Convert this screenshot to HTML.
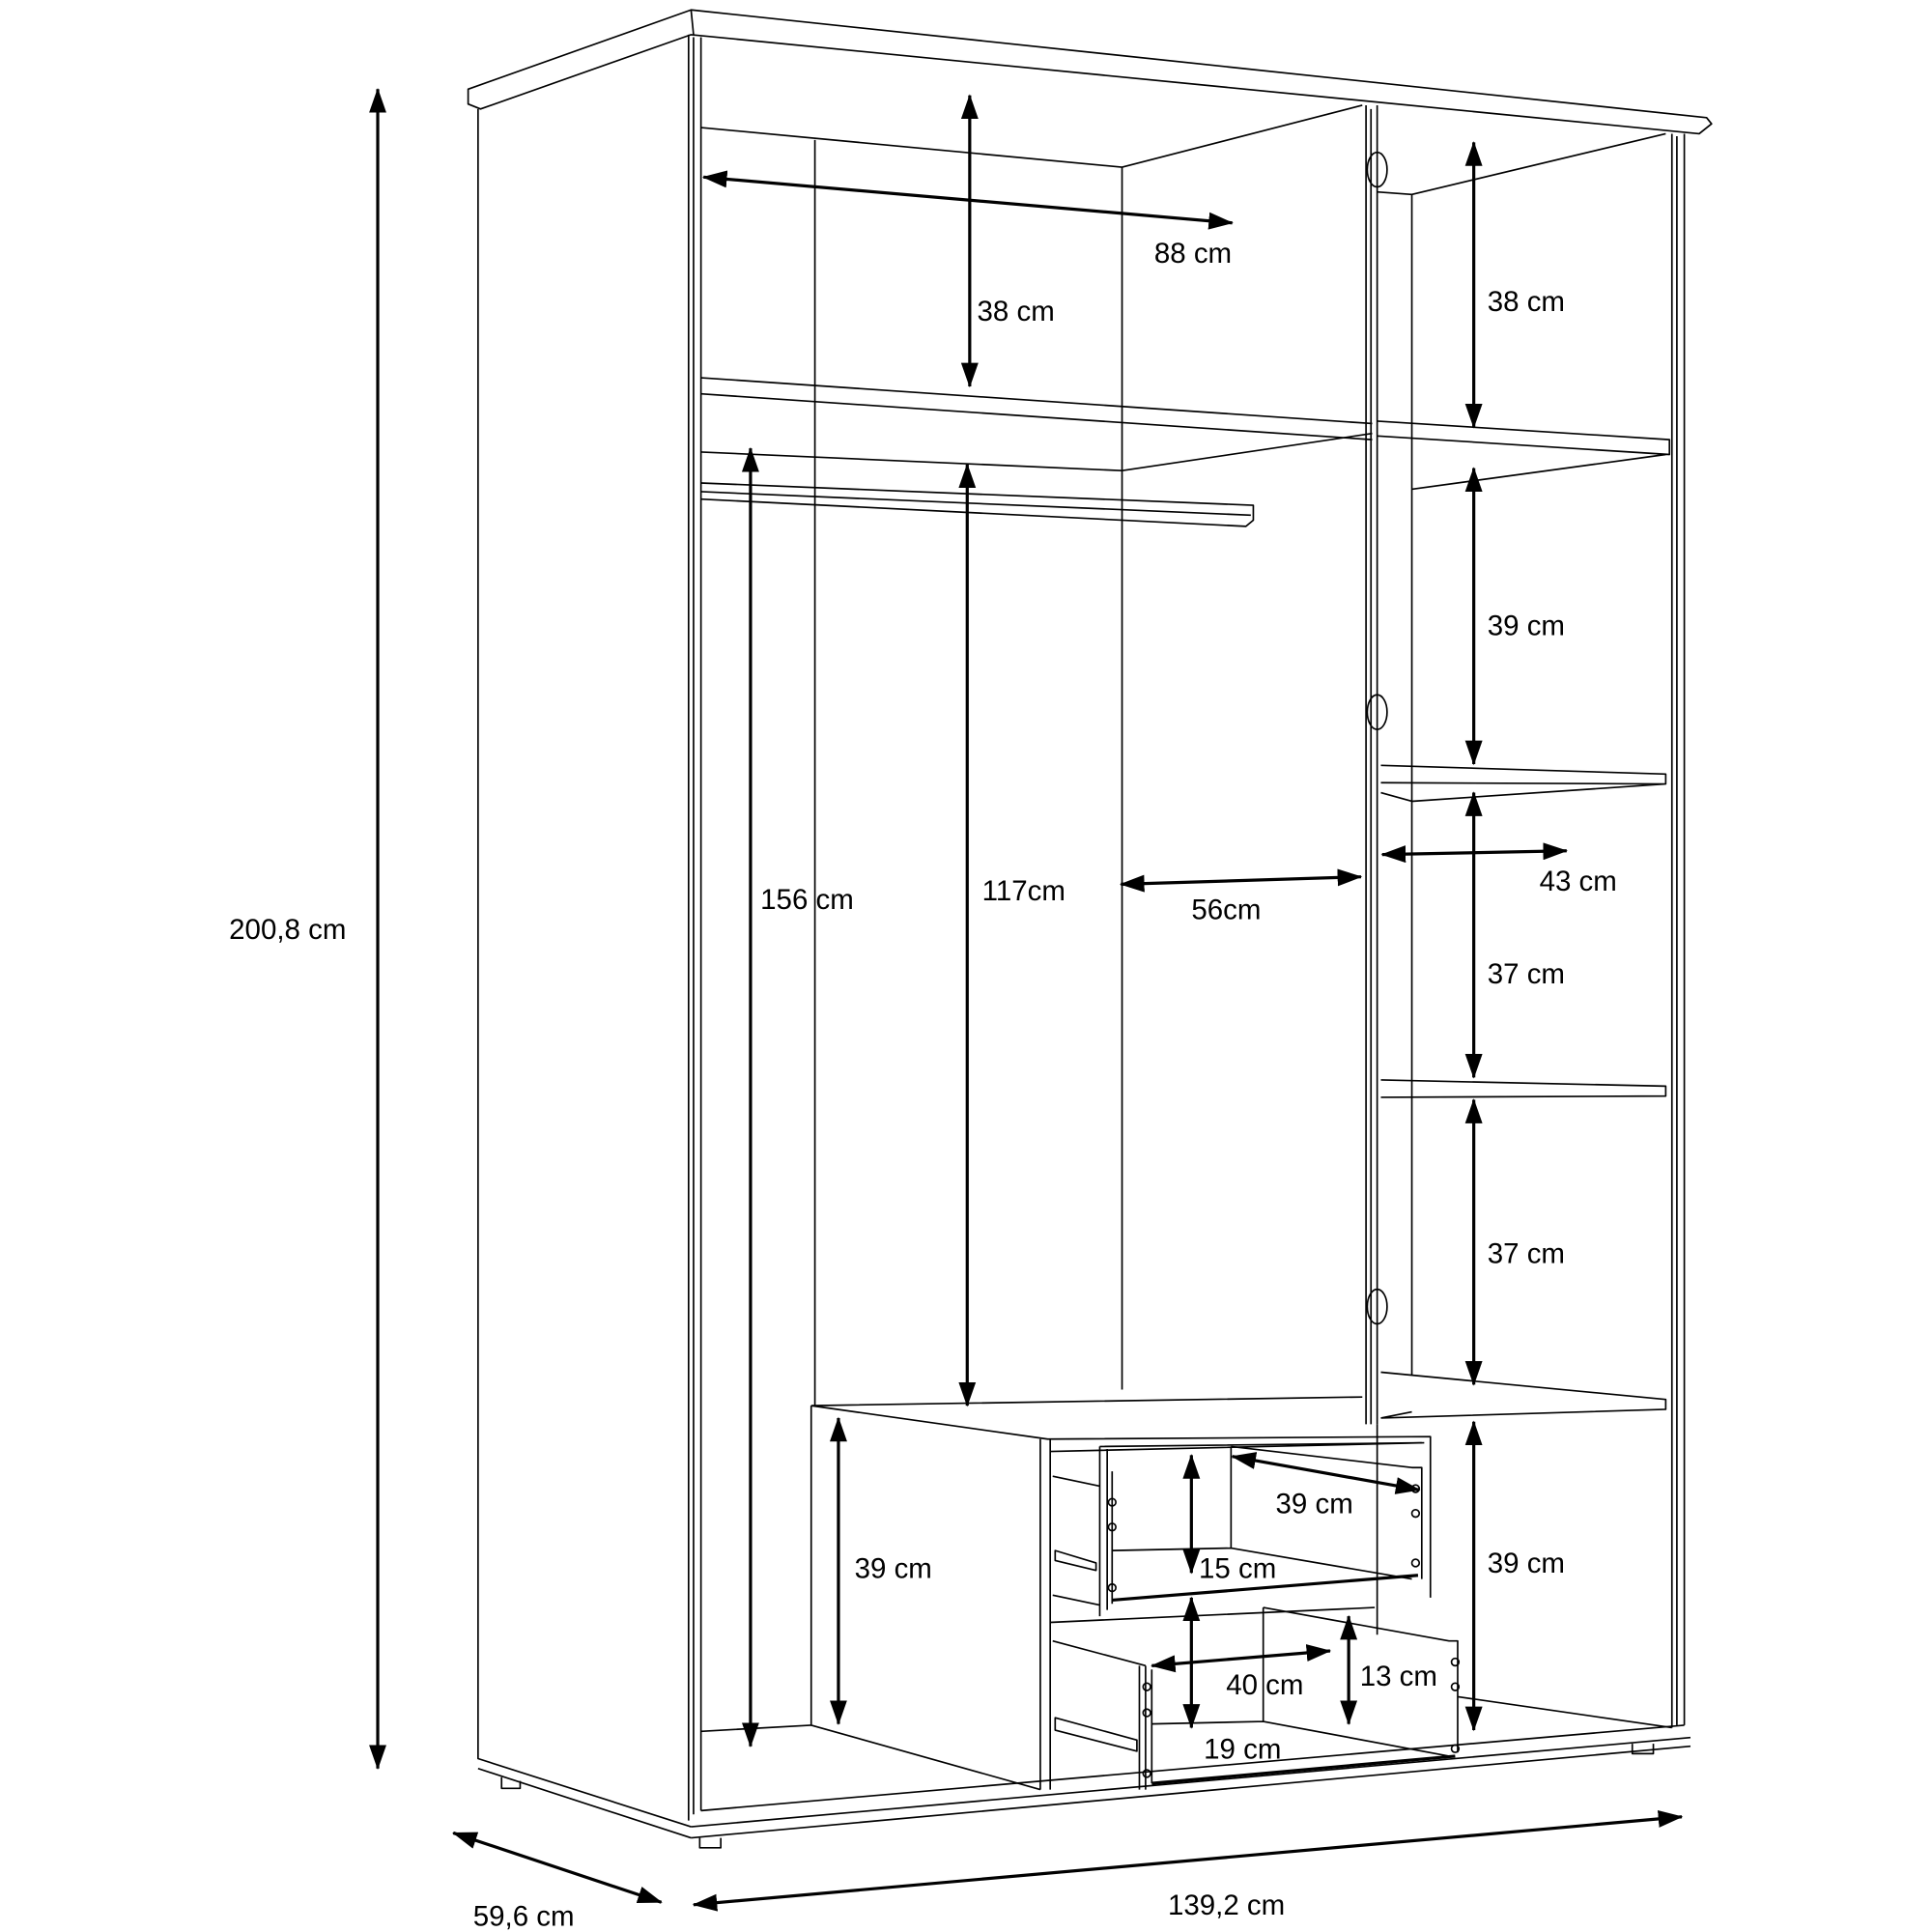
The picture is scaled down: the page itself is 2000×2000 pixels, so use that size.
<!DOCTYPE html>
<html><head><meta charset="utf-8"><style>
html,body{margin:0;padding:0;background:#fff}
svg{display:block}
text{font-family:"Liberation Sans",sans-serif;font-size:23px;fill:#000}
</style></head><body>
<svg width="2000" height="2000" viewBox="0 0 1560 1560" xmlns="http://www.w3.org/2000/svg">
<defs>
<marker id="a" viewBox="0 0 20 14" refX="19" refY="7" markerWidth="20" markerHeight="14" markerUnits="userSpaceOnUse" orient="auto-start-reverse"><path d="M0,0 L20,7 L0,14 z" fill="#000"/></marker>
</defs>
<g fill="none" stroke="#000" stroke-width="1.3" stroke-linejoin="round">
<path d="M378,72 L558,8 L1378,95 L1382,100 L1372,108 L558,28 L388,88 L378,84 Z" fill="#fff"/>
<path d="M558,8 L560,28"/>
<path d="M386,88 L386,1420 L558,1475"/>
<path d="M386,1428 L558,1484"/>
<path d="M556,28 L556,1470 M566,30 L566,1462 M560,30 L560,1465"/>
<path d="M1350,108 L1350,1395 M1360,108 L1360,1393 M1354,110 L1354,1393"/>
<path d="M558,1475 L1365,1403 M566,1462 L1360,1393 M558,1484 L1365,1410"/>
<path d="M405,1435 L405,1444 L420,1444 L420,1438 M565,1484 L565,1492 L582,1492 L582,1484 M1318,1408 L1318,1416 L1335,1416 L1335,1408"/>
<path d="M566,103 L906,135 L1100,85"/>
<path d="M658,113 L658,1135 M906,135 L906,1122"/>
<path d="M566,305 L1108,342 M566,318 L1108,355 M906,380 L1108,350 M566,365 L906,380"/>
<path d="M566,390 L1012,408 L1012,420 L1006,425 L566,403 M566,397 L1010,416"/>
<path d="M1103,85 L1103,1150 M1112,85 L1112,1150 M1107,88 L1107,1150"/>
<ellipse cx="1112" cy="137" rx="8" ry="14"/>
<ellipse cx="1112" cy="575" rx="8" ry="14"/>
<ellipse cx="1112" cy="1055" rx="8" ry="14"/>
<path d="M1112,155 L1140,157 L1345,108 M1140,157 L1140,1110"/>
<path d="M1112,340 L1348,355 L1348,367 L1112,352 M1140,395 L1345,367"/>
<path d="M1115,618 L1345,625 L1345,633 L1115,632 M1140,647 L1345,633 M1115,640 L1140,647"/>
<path d="M1115,872 L1345,877 L1345,885 L1115,886"/>
<path d="M1115,1108 L1345,1130 L1345,1138 L1115,1145 M1140,1140 L1115,1145"/>
<path d="M1112,1150 L1112,1320"/>
<path d="M655,1135 L1100,1128 M655,1135 L846,1162 L1155,1160 L1155,1290 M655,1135 L655,1393 L840,1445 M840,1162 L840,1445 M848,1162 L848,1445"/>
<path d="M848,1172 L1150,1165 M848,1310 L1110,1298"/>
<path d="M566,1398 L655,1393 M1177,1370 L1350,1395"/>
<path d="M850,1192 L888,1200 M850,1288 L888,1296"/>
<path d="M888,1168 L1148,1165 M888,1168 L888,1305 M894,1170 L894,1300 M898,1188 L898,1295"/>
<path d="M994,1168 L994,1250 L1140,1275 M994,1168 L1140,1185 L1148,1185 L1148,1275 M898,1252 L994,1250"/>
<path d="M898,1292 L1145,1272" stroke-width="2.5"/>
<path d="M852,1252 L885,1262 L885,1268 L852,1260 Z"/>
<circle cx="898" cy="1213" r="3"/><circle cx="898" cy="1233" r="3"/><circle cx="898" cy="1282" r="3"/>
<circle cx="1143" cy="1202" r="3"/><circle cx="1143" cy="1222" r="3"/><circle cx="1143" cy="1262" r="3"/>
<path d="M850,1325 L925,1345 M925,1345 L925,1445 M920,1345 L920,1445 M930,1348 L930,1440"/>
<path d="M1020,1298 L1020,1390 L1170,1418 M1020,1298 L1170,1325 L1177,1325 L1177,1415 M930,1392 L1020,1390"/>
<path d="M930,1440 L1175,1418" stroke-width="2.5"/>
<path d="M852,1387 L918,1405 L918,1414 L852,1397 Z"/>
<circle cx="926" cy="1362" r="3"/><circle cx="926" cy="1383" r="3"/><circle cx="926" cy="1432" r="3"/>
<circle cx="1175" cy="1342" r="3"/><circle cx="1175" cy="1362" r="3"/><circle cx="1175" cy="1412" r="3"/>
</g>
<g stroke="#000" stroke-width="2.5" marker-start="url(#a)" marker-end="url(#a)">
<line x1="305" y1="72" x2="305" y2="1428"/>
<line x1="366" y1="1480" x2="534" y2="1536"/>
<line x1="560" y1="1538" x2="1358" y2="1467"/>
<line x1="568" y1="143" x2="995" y2="180"/>
<line x1="783" y1="77" x2="783" y2="312"/>
<line x1="1190" y1="115" x2="1190" y2="345"/>
<line x1="1190" y1="378" x2="1190" y2="617"/>
<line x1="1116" y1="690" x2="1265" y2="687"/>
<line x1="1190" y1="640" x2="1190" y2="870"/>
<line x1="1190" y1="888" x2="1190" y2="1118"/>
<line x1="1190" y1="1148" x2="1190" y2="1397"/>
<line x1="606" y1="362" x2="606" y2="1410"/>
<line x1="781" y1="375" x2="781" y2="1135"/>
<line x1="905" y1="714" x2="1099" y2="708"/>
<line x1="677" y1="1145" x2="677" y2="1392"/>
<line x1="962" y1="1175" x2="962" y2="1270"/>
<line x1="995" y1="1176" x2="1146" y2="1203"/>
<line x1="962" y1="1290" x2="962" y2="1395"/>
<line x1="930" y1="1345" x2="1074" y2="1333"/>
<line x1="1089" y1="1305" x2="1089" y2="1392"/>
</g>
<g>
<text x="185" y="758">200,8 cm</text>
<text x="382" y="1555">59,6 cm</text>
<text x="943" y="1546">139,2 cm</text>
<text x="932" y="212">88 cm</text>
<text x="789" y="259">38 cm</text>
<text x="1201" y="251">38 cm</text>
<text x="1201" y="513">39 cm</text>
<text x="1243" y="719">43 cm</text>
<text x="1201" y="794">37 cm</text>
<text x="1201" y="1020">37 cm</text>
<text x="1201" y="1270">39 cm</text>
<text x="614" y="734">156 cm</text>
<text x="793" y="727">117cm</text>
<text x="962" y="742">56cm</text>
<text x="690" y="1274">39 cm</text>
<text x="968" y="1274">15 cm</text>
<text x="1030" y="1222">39 cm</text>
<text x="972" y="1420">19 cm</text>
<text x="990" y="1368">40 cm</text>
<text x="1098" y="1361">13 cm</text>
</g>
</svg>
</body></html>
